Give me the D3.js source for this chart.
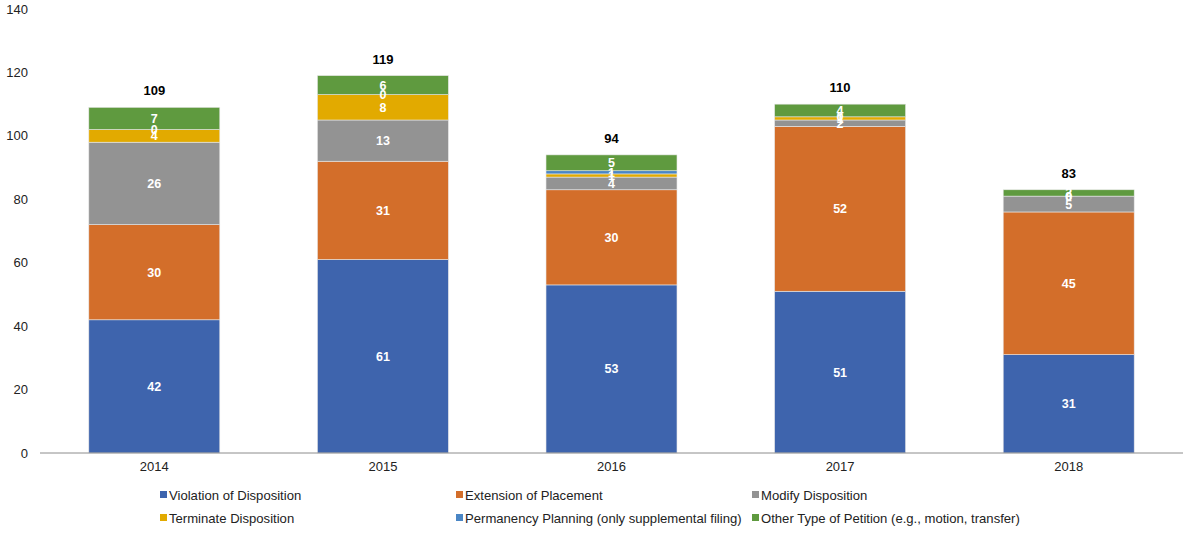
<!DOCTYPE html>
<html><head><meta charset="utf-8">
<script src="https://cdn.jsdelivr.net/npm/d3@7"></script>
<style>body{margin:0;background:#fff;font-family:"Liberation Sans",Arial,sans-serif;}</style>
</head><body><svg id="c" width="1188" height="533"></svg>
<script>
const years = ["2014","2015","2016","2017","2018"];
const seriesNames = ["Violation of Disposition","Extension of Placement","Modify Disposition","Terminate Disposition","Permanency Planning (only supplemental filing)","Other Type of Petition (e.g., motion, transfer)"];
const violation   = [42,61,53,51,31];
const extension   = [30,31,30,52,45];
const modify      = [26,13,4,2,5];
const terminate   = [4,8,1,1,0];
const permanency  = [0,0,1,0,0];
const other       = [7,6,5,4,2];
const yTicks = [0,20,40,60,80,100,120,140];
const colors = ["#3e64ad","#d36e2a","#939393","#e2aa00","#4a86c5","#5f9a3f"];

const seriesVals = [violation,extension,modify,terminate,permanency,other];
const table = years.map((y,i)=>{const o={year:y}; seriesNames.forEach((s,k)=>o[s]=seriesVals[k][i]); return o;});
const stack = d3.stack().keys(seriesNames)(table);

const svg = d3.select("#c");
const x = d3.scaleBand().domain(years).range([40,1183]).paddingInner(0.427).paddingOuter(0.2135);
const y = d3.scaleLinear().domain([0,140]).range([453,9]);

svg.append("g").selectAll("text").data(yTicks).join("text")
  .attr("x",28).attr("y",d=>y(d)).attr("dy","0.35em").attr("text-anchor","end")
  .attr("font-size",13).attr("fill","#222").text(d=>d);

const g = svg.append("g");
stack.forEach((layer,k)=>{
  g.append("g").selectAll("rect").data(layer).join("rect")
    .attr("x",d=>x(d.data.year)).attr("width",x.bandwidth())
    .attr("y",d=>y(d[1])).attr("height",d=>y(d[0])-y(d[1]))
    .attr("fill",colors[k]).attr("stroke","#e8e8e8").attr("stroke-width",0.6);
});
stack.forEach((layer,k)=>{
  g.append("g").selectAll("text").data(layer).join("text")
    .attr("x",d=>x(d.data.year)+x.bandwidth()/2)
    .attr("y",d=>y((d[0]+d[1])/2)).attr("dy","0.36em")
    .attr("text-anchor","middle").attr("font-size",12.5).attr("font-weight","bold")
    .attr("fill","#fff").text(d=>d[1]-d[0]);
});

svg.append("line").attr("x1",40).attr("x2",1183).attr("y1",y(0)).attr("y2",y(0)).attr("stroke","#8c8c8c").attr("stroke-width",1);

const totals = table.map(d=>({year:d.year,t:d3.sum(seriesNames,s=>d[s])}));
svg.append("g").selectAll("text").data(totals).join("text")
  .attr("x",d=>x(d.year)+x.bandwidth()/2).attr("y",d=>y(d.t)-12)
  .attr("text-anchor","middle").attr("font-size",13).attr("font-weight","bold").attr("fill","#000").text(d=>d.t);

svg.append("g").selectAll("text").data(years).join("text")
  .attr("x",d=>x(d)+x.bandwidth()/2).attr("y",471).attr("text-anchor","middle")
  .attr("font-size",13).attr("fill","#222").text(d=>d);

const legX = [160,456,752];
const legY = [495,518];
const leg = svg.append("g").selectAll("g").data(seriesNames).join("g")
  .attr("transform",(d,i)=>`translate(${legX[i%3]},${legY[Math.floor(i/3)]})`);
leg.append("rect").attr("x",0).attr("y",-4).attr("width",7).attr("height",7).attr("fill",(d,i)=>colors[i]);
leg.append("text").attr("x",9).attr("y",0).attr("dy","0.36em").attr("font-size",13.1).attr("fill","#222").text(d=>d);
</script></body></html>
